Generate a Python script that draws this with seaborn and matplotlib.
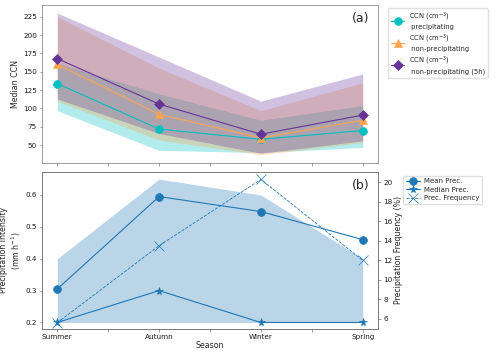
import numpy as np
import matplotlib
matplotlib.use("Agg")
import matplotlib.pyplot as plt
import seaborn as sns

sns.set_style("ticks")
plt.rcParams["font.family"] = ["DejaVu Sans"]
plt.rcParams["font.size"] = 5.2
plt.rcParams["axes.labelsize"] = 5.7
plt.rcParams["axes.linewidth"] = 0.45
plt.rcParams["axes.edgecolor"] = "0.4"
plt.rcParams["xtick.major.width"] = 0.45
plt.rcParams["ytick.major.width"] = 0.45
plt.rcParams["xtick.major.size"] = 1.8
plt.rcParams["ytick.major.size"] = 1.8
plt.rcParams["xtick.major.pad"] = 1.8
plt.rcParams["ytick.major.pad"] = 1.8
plt.rcParams["xtick.color"] = "0.4"
plt.rcParams["ytick.color"] = "0.4"
plt.rcParams["xtick.labelcolor"] = "0.1"
plt.rcParams["ytick.labelcolor"] = "0.1"
plt.rcParams["axes.labelpad"] = 2.0

# Data
seasons = ["Summer", "Autumn", "Winter", "Spring"]

ccn_precip = [134, 72, 58, 70]
ccn_precip_lo = [97, 43, 40, 47]
ccn_precip_hi = [162, 120, 84, 104]

ccn_nonprecip = [160, 92, 60, 84]
ccn_nonprecip_lo = [110, 57, 37, 54]
ccn_nonprecip_hi = [225, 155, 97, 135]

ccn_5h = [168, 106, 65, 91]
ccn_5h_lo = [113, 66, 39, 56]
ccn_5h_hi = [230, 170, 110, 147]

prec_mean = [0.305, 0.595, 0.548, 0.46]
prec_median = [0.2, 0.3, 0.2, 0.2]
prec_lo = [0.2, 0.2, 0.2, 0.2]
prec_hi = [0.40, 0.65, 0.60, 0.40]
prec_freq = [5.6, 13.5, 20.3, 12.0]

x = np.arange(len(seasons))
c_prec = "#00bfbf"
c_non = "#ffa54f"
c_5h = "#663399"
c_b = "#1f77b4"
lw = 0.8
ms = 5.6

fig = plt.figure(figsize=(5, 3.54), dpi=100)
ax1 = fig.add_axes([0.084, 0.540, 0.672, 0.446])
ax2 = fig.add_axes([0.084, 0.071, 0.672, 0.443])

# (a) CCN
series = [
    (ccn_precip, ccn_precip_lo, ccn_precip_hi, c_prec, "o", "CCN (cm$^{-3}$)\n precipitating"),
    (ccn_nonprecip, ccn_nonprecip_lo, ccn_nonprecip_hi, c_non, "^", "CCN (cm$^{-3}$)\n non-precipitating"),
    (ccn_5h, ccn_5h_lo, ccn_5h_hi, c_5h, "D", "CCN (cm$^{-3}$)\n non-precipitating (5h)"),
]
for vals, lo, hi, col, mk, lab in series:
    ax1.fill_between(x, lo, hi, color=col, alpha=0.3, linewidth=0)
for vals, lo, hi, col, mk, lab in series:
    sns.lineplot(x=x, y=vals, ax=ax1, color=col, marker=mk, markersize=ms if mk != "D" else ms * 0.95,
                 markeredgecolor=col, markeredgewidth=0.5, linewidth=lw, label=lab)

ax1.set_xlim(-0.15, 3.15)
ax1.set_ylim(26, 241)
ax1.set_yticks(np.arange(50, 226, 25))
ax1.set_xticks(np.arange(0, 3.01, 0.5))
ax1.set_xticklabels([])
ax1.set_ylabel("Median CCN")
ax1.text(0.975, 0.955, "(a)", transform=ax1.transAxes, ha="right", va="top", fontsize=9)
ax1.legend(loc="upper left", bbox_to_anchor=(1.02, 1.0), fontsize=4.9, frameon=True,
           fancybox=True, framealpha=0.8, edgecolor="0.85", borderpad=0.4, labelspacing=0.4,
           handlelength=2.0, handletextpad=0.6)

# (b) precipitation
ax2.fill_between(x, prec_lo, prec_hi, color=c_b, alpha=0.3, linewidth=0)
sns.lineplot(x=x, y=prec_mean, ax=ax2, color=c_b, marker="o", markersize=ms,
             markeredgecolor=c_b, markeredgewidth=0.5, linewidth=lw, label="Mean Prec.")
sns.lineplot(x=x, y=prec_median, ax=ax2, color=c_b, marker="*", markersize=ms * 1.05,
             markeredgecolor=c_b, markeredgewidth=0.5, linewidth=lw, label="Median Prec.")
ax2.set_xlim(-0.15, 3.15)
ax2.set_ylim(0.18, 0.672)
ax2.set_yticks([0.2, 0.3, 0.4, 0.5, 0.6])
ticks = np.arange(0, 3.01, 0.5)
ax2.set_xticks(ticks)
ax2.set_xticklabels([seasons[int(t)] if t == int(t) else "" for t in ticks])
ax2.set_xlabel("Season", labelpad=0.8)
ax2.set_ylabel("Precipitation Intensity\n(mm h$^{-1}$)", labelpad=1.5)

ax3 = ax2.twinx()
sns.lineplot(x=x, y=prec_freq, ax=ax3, color=c_b, marker="x", markersize=ms * 1.35,
             markeredgecolor=c_b, markeredgewidth=0.5, linewidth=0.6, linestyle="--",
             label="Prec. Frequency")
ax3.set_ylim(4.97, 21.06)
ax3.set_yticks(np.arange(6, 21, 2))
ax3.set_ylabel("Precipitation Frequency (%)", labelpad=1.5)
ax3.text(0.975, 0.955, "(b)", transform=ax2.transAxes, ha="right", va="top", fontsize=9)

h1, l1 = ax2.get_legend_handles_labels()
h2, l2 = ax3.get_legend_handles_labels()
ax2.get_legend().remove()
ax3.get_legend().remove()
ax3.legend(h1 + h2, l1 + l2, loc="upper left", bbox_to_anchor=(1.065, 1.0), fontsize=5.0,
           frameon=True, fancybox=True, framealpha=0.8, edgecolor="0.85", borderpad=0.4,
           labelspacing=0.35, handlelength=2.0, handletextpad=0.6)

fig.savefig("out.png", dpi=100)
